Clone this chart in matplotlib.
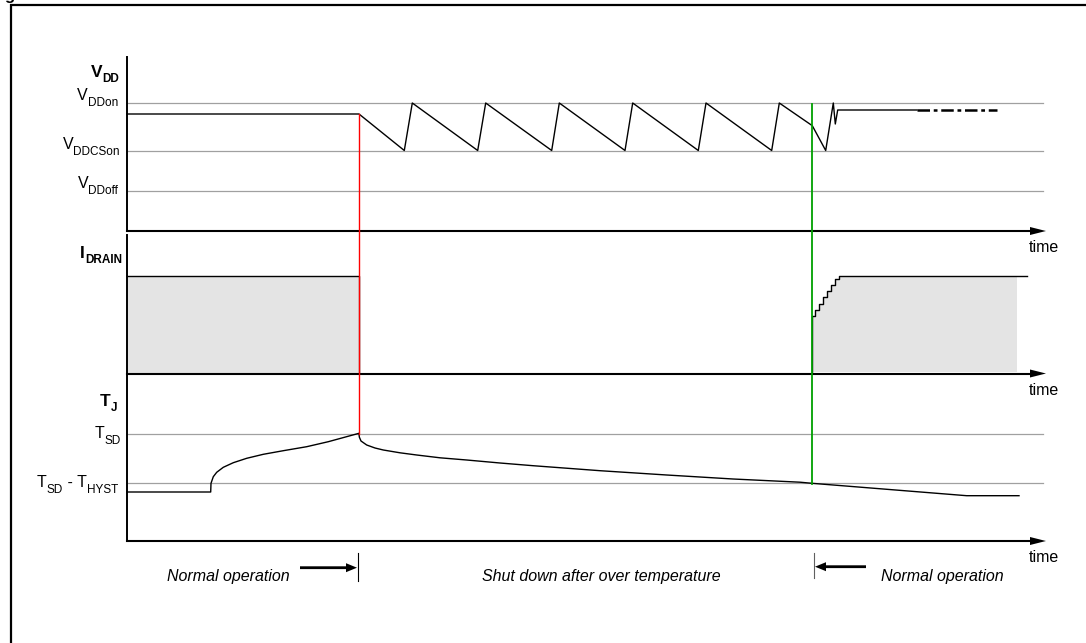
import matplotlib
matplotlib.use('Agg')
import matplotlib.pyplot as plt
from matplotlib.patches import FancyArrow

plt.rcParams['font.family'] = ['Liberation Sans', 'DejaVu Sans']

# ---------------- data (diagram units: time along x, level along y) ----------------
t_origin = 127
t_grid_end = 1043
t_arrow_end = 1046

# VDD panel
vdd_axis_top, vdd_axis_base = 57, 231
vdd_levels = [103, 150.5, 190.5]          # VDDon, VDDCSon, VDDoff
vdd_level_labels = [[('V', 0), ('DDon', 1)], [('V', 0), ('DDCSon', 1)], [('V', 0), ('DDoff', 1)]]
vdd_label_pos = [(118, 100), (120, 149.3), (118, 188.3)]
vdd_t = [127, 359, 404.3, 412.3, 477.7, 485.7, 551.7, 559.3, 625, 632.7, 698.3,
         706, 771.7, 779.3, 812.3, 825.7, 833.3, 835.3, 837.7, 917]
vdd_v = [114, 114, 150.5, 103, 150.5, 103, 150.5, 103, 150.5, 103, 150.5,
         103, 150.5, 103, 125.7, 150.5, 103, 124, 110, 110]
vdd_dash_t = [917, 997]
vdd_dash_v = [110, 110]

# IDRAIN panel
id_axis_top, id_axis_base = 235, 373.5
id_pre_t = [127, 359, 359]
id_pre_v = [276, 276, 373]
id_post_t = [811.7, 811.7, 815, 815, 819.3, 819.3, 823.3, 823.3, 827.3, 827.3,
             831.3, 831.3, 835.3, 835.3, 839.3, 839.3, 1026.7]
id_post_v = [373, 316, 316, 310, 310, 304, 304, 296.7, 296.7, 291, 291,
             285, 285, 279.3, 279.3, 276, 276]
id_fill_end = 1016.7

# TJ panel
tj_axis_base = 541
tj_levels = [433.5, 483]                  # TSD, TSD - THYST
tj_level_labels = [[('T', 0), ('SD', 1)],
                   [('T', 0), ('SD', 1), (' - T', 0), ('HYST', 1)]]
tj_label_pos = [(121, 438.3), (118, 487.3)]
tj_t = [127, 210.7, 211, 213.3, 216.7, 223.3, 233.3, 246.7, 263.3, 283.3, 306.7,
        328.3, 359, 359.3, 361, 366.7, 375, 383.3, 400, 416.7, 440, 466.7, 500,
        533, 600, 666.7, 733, 800, 812, 966.7, 1019]
tj_v = [492, 492, 483.3, 476.7, 472.3, 467.3, 462.7, 458.3, 454.3, 450.7, 446.7,
        441.7, 433.3, 437, 441, 445, 448, 450, 452.8, 455, 457.8, 460, 463,
        465.7, 470.7, 475, 479, 482.2, 483.3, 495.7, 495.7]

# panel titles
panel_titles = [[('V', 0), ('DD', 1)], [('I', 0), ('DRAIN', 1)], [('T', 0), ('J', 1)]]
panel_title_pos = [(119, 76.7), (122, 258.3), (117, 406)]

# events
t_shutdown = 359
t_restart = 812

# phase annotations
phase_texts = ['Normal operation', 'Shut down after over temperature', 'Normal operation']
phase_x = [228, 601, 942]
phase_y = 576

# ---------------- drawing ----------------
W, H = 1086, 643
fig = plt.figure(figsize=(W / 100, H / 100), dpi=100)
ax = fig.add_axes([0, 0, 1, 1])
ax.set_xlim(0, W)
ax.set_ylim(H, 0)
ax.axis('off')
renderer = fig.canvas.get_renderer()


def sub_label(pieces, x_right, y_base, size, sub_size, sub_drop, weight='normal'):
    """Draw base/subscript pieces right-aligned at x_right, baseline y_base."""
    objs = []
    x = 0.0
    for txt, is_sub in pieces:
        t = ax.text(x, y_base + (sub_drop if is_sub else 0), txt,
                    fontsize=sub_size if is_sub else size, fontweight=weight,
                    ha='left', va='baseline')
        bb = t.get_window_extent(renderer=renderer)
        x += bb.width
        objs.append(t)
    shift = x_right - x
    for t in objs:
        px, py = t.get_position()
        t.set_position((px + shift, py))


# outer frame
ax.plot([11, 11, W + 5], [H + 5, 5, 5], color='black', lw=1.6, solid_joinstyle='miter')
ax.text(4, 0, 'g', fontsize=12, fontweight='bold', va='baseline', ha='left')

grid_col = '#a0a0a0'
for lv in vdd_levels + tj_levels:
    ax.plot([t_origin, t_grid_end], [lv, lv], color=grid_col, lw=0.9)


def time_axis(y):
    ax.plot([t_origin, t_arrow_end - 14], [y, y], color='black', lw=1.5)
    ax.add_patch(FancyArrow(t_arrow_end - 16, y, 16, 0, width=0.01, head_width=8,
                            head_length=16, length_includes_head=True,
                            color='black', lw=0))
    ax.text(1044, y + 17, 'time', fontsize=11.5, ha='center', va='center')


ax.plot([t_origin, t_origin], [vdd_axis_top, vdd_axis_base], color='black', lw=1.4)
ax.plot([t_origin, t_origin], [id_axis_top, tj_axis_base], color='black', lw=1.4)
time_axis(vdd_axis_base)
time_axis(id_axis_base)
time_axis(tj_axis_base)

# panel titles and level labels
for pieces, (x, y) in zip(panel_titles, panel_title_pos):
    sub_label(pieces, x, y, 12.5, 8.5, 5, weight='bold')
for pieces, (x, y) in zip(vdd_level_labels + tj_level_labels, vdd_label_pos + tj_label_pos):
    sub_label(pieces, x, y, 11.5, 8.5, 6)

# IDRAIN fills
ax.fill_between([128, 358], [277, 277], [373, 373], color='#e4e4e4', lw=0)
fx = [t for t in id_post_t if t <= id_fill_end] + [id_fill_end]
fy = id_post_v[:len(fx) - 1] + [id_post_v[len(fx) - 2]]
ax.fill_between(fx, fy, [372] * len(fx), color='#e4e4e4', lw=0)

# traces
ax.plot(vdd_t, vdd_v, color='black', lw=1.0)
ax.plot(vdd_dash_t, vdd_dash_v, color='black', lw=1.8, linestyle=(0, (5, 1.5, 1.5, 1.5)))
ax.plot(id_pre_t, id_pre_v, color='black', lw=1.0)
ax.plot(id_post_t, id_post_v, color='black', lw=1.0)
ax.plot(tj_t, tj_v, color='black', lw=1.0)

# event markers
ax.plot([t_shutdown, t_shutdown], [114, tj_levels[0]], color='#ff0000', lw=1.0)
ax.plot([t_restart, t_restart], [104, 484], color='#00a000', lw=1.3)

# phase annotations
for txt, x in zip(phase_texts, phase_x):
    ax.text(x, phase_y, txt, fontsize=11.5, style='italic', ha='center', va='center')
ax.plot([358.3, 358.3], [553, 580.7], color='black', lw=0.8)
ax.plot([814, 814], [553, 578], color='#606060', lw=0.8)
ax.add_patch(FancyArrow(300, 567.7, 57, 0, width=2.8, head_width=9, head_length=11,
                        length_includes_head=True, color='black', lw=0))
ax.add_patch(FancyArrow(866, 566.7, -51, 0, width=2.8, head_width=9, head_length=11,
                        length_includes_head=True, color='black', lw=0))

fig.savefig('out.png', dpi=100)
